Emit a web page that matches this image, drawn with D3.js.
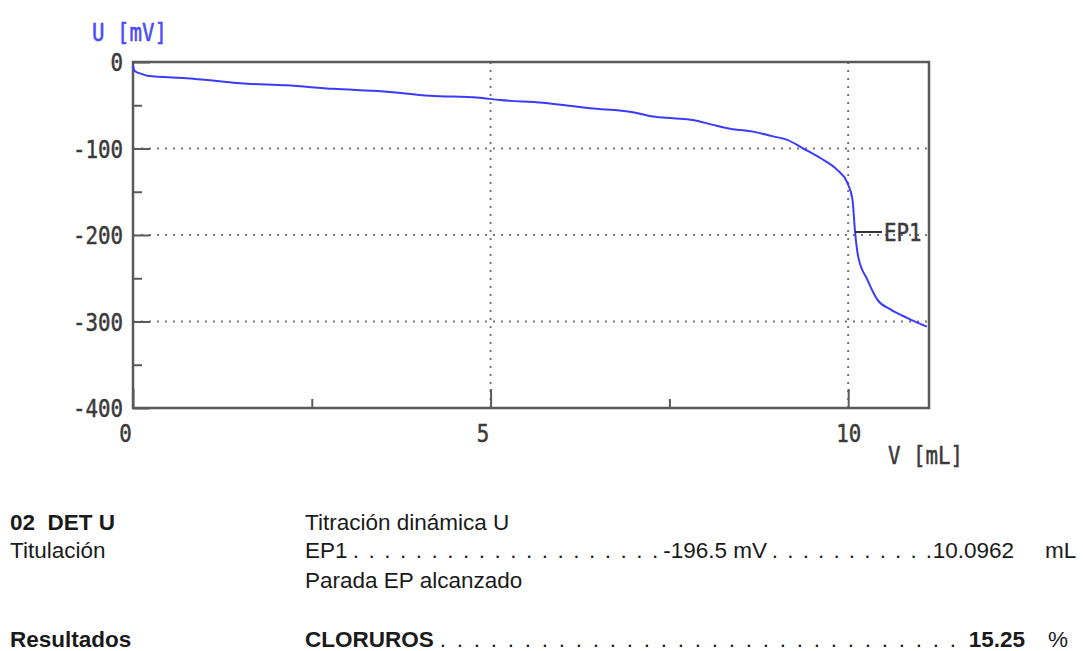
<!DOCTYPE html>
<html>
<head>
<meta charset="utf-8">
<script src="https://cdn.jsdelivr.net/npm/d3@7"></script>
<style>
  html, body { margin: 0; padding: 0; background: #fff; }
  svg { display: block; }
  text { white-space: pre; }
</style>
</head>
<body>
<svg id="chart" width="1083" height="651"></svg>
<script>
// Titration curve: dispensed volume (mL) against electrode potential (mV)
const volume = [0, 0.02, 0.13, 0.2, 0.8, 1.17, 1.5, 2.15, 2.8, 3.5, 4.15, 4.81, 5.13, 5.73, 6.39, 6.99, 7.27, 7.55, 7.83, 8.11, 8.39, 8.67, 8.95, 9.15, 9.37, 9.61, 9.85, 9.99, 10.06, 10.0962, 10.14, 10.27, 10.41, 10.59, 10.83, 11.1];
const potential = [-4, -10, -14, -16, -19, -22, -24.6, -27, -31, -34, -39, -41, -44, -47, -53.5, -58, -63, -65, -67, -72.7, -77.7, -80.5, -86, -90, -100, -111, -125, -140, -159, -196.5, -225, -252, -275, -286, -296, -306];

// Axis ticks
const xTicks = [0, 5, 10];
const xTickLabels = ["0", "5", "10"];
const xMinorTicks = [2.5, 7.5];
const yTicks = [0, -100, -200, -300, -400];
const yTickLabels = ["0", "-100", "-200", "-300", "-400"];
const yMinorTicks = [-50, -150, -250, -350];
const xGrid = [5, 10];
const yGrid = [-100, -200, -300];

// Endpoint
const epName = ["EP1"];
const epVolume = [10.0962];
const epPotential = [-196.5];

// Report block below the chart
const reportLeft = ["02  DET U", "Titulación", "Resultados"];
const methodName = "Titración dinámica U";
const stopText = "Parada EP alcanzado";
const resultName = "CLORUROS";
const resultValue = [15.25];

const svg = d3.select("#chart");
const box = { left: 133, right: 929, top: 62, bottom: 408 };

const x = d3.scaleLinear().domain([0, 11.13]).range([box.left, box.right]);
const y = d3.scaleLinear().domain([-400, 0]).range([box.bottom, box.top]);

const monoFont = "'DejaVu Sans Mono', 'Liberation Mono', monospace";
const axisColor = "#5a5a5a";
const labelColor = "#3a3a3a";
const charW = 12.5;

function styleMono(sel) {
  sel.attr("font-family", monoFont)
     .attr("font-size", 24)
     .attr("fill", labelColor)
     .attr("stroke", labelColor)
     .attr("stroke-width", 0.5)
     .attr("textLength", function() { return this.textContent.length * charW; })
     .attr("lengthAdjust", "spacingAndGlyphs");
}

// dotted grid
const grid = svg.append("g").attr("stroke", "#777").attr("stroke-width", 2)
  .attr("stroke-dasharray", "2,6");
grid.selectAll("line.gx").data(xGrid).join("line")
  .attr("x1", d => x(d)).attr("x2", d => x(d))
  .attr("y1", box.top).attr("y2", box.bottom);
grid.selectAll("line.gy").data(yGrid).join("line")
  .attr("x1", box.left).attr("x2", box.right)
  .attr("y1", d => y(d)).attr("y2", d => y(d));

// left axis: major ticks with labels, minor ticks without
const yAxis = svg.append("g").attr("transform", `translate(${box.left},0)`)
  .call(d3.axisLeft(y).tickValues(yTicks).tickSizeInner(-17).tickSizeOuter(0)
    .tickPadding(10).tickFormat((d, i) => yTickLabels[i]));
yAxis.select(".domain").remove();
yAxis.selectAll("line").attr("stroke", axisColor).attr("stroke-width", 2);
yAxis.selectAll("text").call(styleMono).attr("dy", "0.36em");

const yMinor = svg.append("g").attr("transform", `translate(${box.left},0)`)
  .call(d3.axisLeft(y).tickValues(yMinorTicks).tickSizeInner(-9).tickSizeOuter(0).tickFormat(""));
yMinor.select(".domain").remove();
yMinor.selectAll("line").attr("stroke", axisColor).attr("stroke-width", 2);

// bottom axis
const xAxis = svg.append("g").attr("transform", `translate(0,${box.bottom})`)
  .call(d3.axisBottom(x).tickValues(xTicks).tickSizeInner(-19).tickSizeOuter(0)
    .tickPadding(17).tickFormat((d, i) => xTickLabels[i]));
xAxis.select(".domain").remove();
xAxis.selectAll("line").attr("stroke", axisColor).attr("stroke-width", 2);
xAxis.selectAll("text").call(styleMono)
  .attr("dy", "0.72em")
  .attr("x", function() { return this.textContent.length === 1 ? -8 : 0; });

const xMinor = svg.append("g").attr("transform", `translate(0,${box.bottom})`)
  .call(d3.axisBottom(x).tickValues(xMinorTicks).tickSizeInner(-9).tickSizeOuter(0).tickFormat(""));
xMinor.select(".domain").remove();
xMinor.selectAll("line").attr("stroke", axisColor).attr("stroke-width", 2);

// frame
svg.append("rect")
  .attr("x", box.left).attr("y", box.top)
  .attr("width", box.right - box.left).attr("height", box.bottom - box.top)
  .attr("fill", "none").attr("stroke", axisColor).attr("stroke-width", 2.5);

// axis titles
svg.append("text").attr("x", 92).attr("y", 41).text("U [mV]")
  .call(styleMono).attr("fill", "#4a4aff").attr("stroke", "#4a4aff");
svg.append("text").attr("x", 888).attr("y", 464).text("V [mL]")
  .call(styleMono);

// titration curve
const curve = volume.map((v, i) => [v, potential[i]]);
svg.append("path")
  .datum(curve)
  .attr("fill", "none")
  .attr("stroke", "#3b3bff")
  .attr("stroke-width", 2)
  .attr("stroke-linejoin", "round")
  .attr("d", d3.line().curve(d3.curveMonotoneX).x(d => x(d[0])).y(d => y(d[1])));

// endpoint marker
const ep = svg.append("g");
ep.selectAll("line").data(epVolume).join("line")
  .attr("x1", d => x(d)).attr("x2", d => x(d) + 27)
  .attr("y1", (d, i) => y(epPotential[i])).attr("y2", (d, i) => y(epPotential[i]))
  .attr("stroke", "#333").attr("stroke-width", 2);
ep.selectAll("text").data(epVolume).join("text")
  .attr("x", d => x(d) + 29)
  .attr("y", (d, i) => y(epPotential[i]))
  .attr("dy", "0.36em")
  .text((d, i) => epName[i])
  .call(styleMono);

// report block
const sans = "'Liberation Sans', Arial, sans-serif";
const rep = svg.append("g").attr("font-family", sans).attr("font-size", 22.5).attr("fill", "#1a1a1a");

// dotted leader running between two texts
function leader(x0, x1, yy, step) {
  const n = Math.floor((x1 - x0) / step);
  const xs = d3.range(n + 1).map(k => x0 + k * step);
  rep.append("g").selectAll("text").data(xs).join("text")
    .attr("x", d => d).attr("y", yy).attr("text-anchor", "middle").text(".");
}

rep.append("text").attr("x", 10).attr("y", 530).attr("font-weight", "bold").text(reportLeft[0]);
rep.append("text").attr("x", 10).attr("y", 558).text(reportLeft[1]);
rep.append("text").attr("x", 10).attr("y", 647).attr("font-weight", "bold").text(reportLeft[2]);

rep.append("text").attr("x", 305).attr("y", 530).text(methodName);

rep.append("text").attr("x", 305).attr("y", 558).text(epName[0]);
leader(356, 656, 558, 15.75);
rep.append("text").attr("x", 767).attr("y", 558).attr("text-anchor", "end")
  .text(epPotential[0].toFixed(1) + " mV");
leader(775, 929, 558, 15.4);
rep.append("text").attr("x", 1014).attr("y", 558).attr("text-anchor", "end")
  .text(epVolume[0].toFixed(4));
rep.append("text").attr("x", 1045).attr("y", 558).text("mL");

rep.append("text").attr("x", 305).attr("y", 588).text(stopText);

rep.append("text").attr("x", 305).attr("y", 647).attr("font-weight", "bold").text(resultName);
leader(443, 955, 647, 17);
rep.append("text").attr("x", 1025).attr("y", 647).attr("text-anchor", "end")
  .attr("font-weight", "bold").text(resultValue[0].toFixed(2));
rep.append("text").attr("x", 1048).attr("y", 647).text("%");
</script>
</body>
</html>
